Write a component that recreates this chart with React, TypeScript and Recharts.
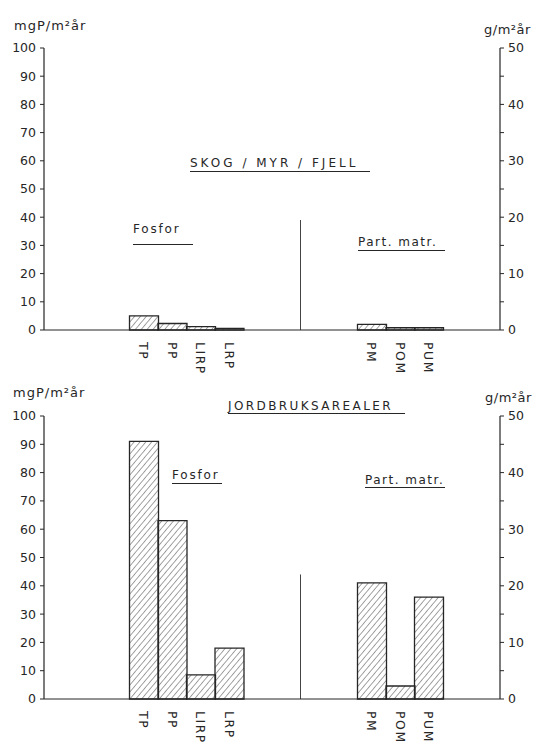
import React from "react";
import { BarChart, Bar, XAxis, YAxis, ReferenceLine } from "recharts";

// categories
const fosforLabels = ["TP", "PP", "LIRP", "LRP"];
const partLabels = ["PM", "POM", "PUM"];

// values (mgP/m²år for fosfor, g/m²år for partikler)
const skogFosfor = [5, 2.3, 1.2, 0.6];
const skogPart = [1.0, 0.4, 0.4];
const jordFosfor = [91, 63, 8.5, 18];
const jordPart = [20.5, 2.3, 18];

// height of the divider line between the two groups (left axis units)
const skogDivider = 39;
const jordDivider = 44;

const leftTicks = [0, 10, 20, 30, 40, 50, 60, 70, 80, 90, 100];
const rightTicks = [0, 5, 10, 15, 20, 25, 30, 35, 40, 45, 50];

const FONT = "'DejaVu Sans', 'Liberation Sans', sans-serif";
const INK = "#262626";

type Row = { key: string; fosfor: number | null; part: number | null };

// empty slots before, between and after the two groups
function buildRows(fosfor: number[], part: number[]): Row[] {
  const rows: Row[] = [];
  let n = 0;
  const blank = (count: number) => {
    for (let i = 0; i < count; i++) rows.push({ key: `_${n++}`, fosfor: null, part: null });
  };
  blank(3);
  fosforLabels.forEach((l, i) => rows.push({ key: l, fosfor: fosfor[i], part: null }));
  blank(4);
  partLabels.forEach((l, i) => rows.push({ key: l, fosfor: null, part: part[i] }));
  blank(2);
  return rows;
}

// the divider sits at the right edge of the second gap slot
const dividerSlot = "_4";

function SlotTick(props: any) {
  const { x, y, payload } = props;
  const label: string = String(payload.value);
  if (label.startsWith("_")) return <g />;
  const ty = y + 4;
  return (
    <text
      x={x}
      y={ty}
      transform={`rotate(90 ${x} ${ty})`}
      dy="0.36em"
      textAnchor="start"
      fontSize={12.5}
      letterSpacing={1.5}
      fill={INK}
      fontFamily={FONT}
    >
      {label}
    </text>
  );
}

type Note = { text: string; left: number; top: number; width?: number; pad?: number; spacing?: number; size?: number };

function Panel(props: {
  id: string;
  top: number;
  height: number;
  marginTop: number;
  fosfor: number[];
  part: number[];
  divider: number;
  notes: Note[];
}) {
  const { id, top, height, marginTop, fosfor, part, divider, notes } = props;
  const rows = buildRows(fosfor, part);
  const tickStyle = { fontSize: 12.5, fill: INK, fontFamily: FONT };
  return (
    <div style={{ position: "absolute", left: 0, top, width: 551, height }}>
      <BarChart
        width={551}
        height={height}
        data={rows}
        margin={{ top: marginTop, right: 0, left: 0, bottom: 0 }}
        barCategoryGap={0}
        barGap={0}
      >
        <defs>
          <pattern id={id} patternUnits="userSpaceOnUse" width={4.5} height={4.5} patternTransform="rotate(40)">
            <line x1={0} y1={0} x2={0} y2={4.5} stroke="#333" strokeWidth={0.9} />
          </pattern>
        </defs>
        <XAxis
          xAxisId="cat"
          dataKey="key"
          interval={0}
          height={52}
          tick={<SlotTick />}
          tickLine={false}
          axisLine={{ stroke: INK, strokeWidth: 1.2 }}
        />
        <XAxis xAxisId="cat2" dataKey="key" hide />
        <YAxis
          yAxisId="left"
          domain={[0, 100]}
          ticks={leftTicks}
          width={44}
          tickSize={4}
          tickMargin={4}
          tick={tickStyle}
          axisLine={{ stroke: INK, strokeWidth: 1.2 }}
          tickLine={{ stroke: INK }}
        />
        <YAxis
          yAxisId="right"
          orientation="right"
          domain={[0, 50]}
          ticks={rightTicks}
          width={51}
          tickSize={4}
          tickMargin={4}
          tick={tickStyle}
          tickFormatter={(v: number) => (v % 10 === 0 ? String(v) : "")}
          axisLine={{ stroke: INK, strokeWidth: 1.2 }}
          tickLine={{ stroke: INK }}
        />
        <Bar
          xAxisId="cat"
          yAxisId="left"
          dataKey="fosfor"
          fill={`url(#${id})`}
          stroke={INK}
          strokeWidth={1.3}
          isAnimationActive={false}
        />
        <Bar
          xAxisId="cat2"
          yAxisId="right"
          dataKey="part"
          fill={`url(#${id})`}
          stroke={INK}
          strokeWidth={1.3}
          isAnimationActive={false}
        />
        <ReferenceLine
          xAxisId="cat"
          yAxisId="left"
          position="end"
          segment={[
            { x: dividerSlot, y: 0 },
            { x: dividerSlot, y: divider },
          ]}
          stroke="#444"
          strokeWidth={1}
        />
      </BarChart>
      {notes.map((n) => (
        <div
          key={n.text}
          style={{
            position: "absolute",
            left: n.left,
            top: n.top,
            width: n.width,
            fontFamily: FONT,
            fontSize: n.size ?? 12,
            lineHeight: "12px",
            color: INK,
            letterSpacing: n.spacing ?? 1,
            whiteSpace: "nowrap",
            paddingBottom: n.pad,
            borderBottom: n.pad !== undefined ? `1px solid ${INK}` : undefined,
          }}
        >
          {n.text}
        </div>
      ))}
    </div>
  );
}

export default function App() {
  return (
    <div style={{ position: "absolute", left: 0, top: 0, width: 551, height: 751, background: "#fff" }}>
      <Panel
        id="hatchSkog"
        top={0}
        height={382}
        marginTop={48}
        fosfor={skogFosfor}
        part={skogPart}
        divider={skogDivider}
        notes={[
          { text: "mgP/m²år", left: 14, top: 20, spacing: 1, size: 13 },
          { text: "g/m²år", left: 484, top: 24, spacing: 0.5, size: 13 },
          { text: "SKOG / MYR / FJELL", left: 190, top: 157, width: 180, pad: 2, spacing: 3 },
          { text: "Fosfor", left: 133, top: 223, width: 60, pad: 9, spacing: 1.8 },
          { text: "Part. matr.", left: 358, top: 236, width: 87, pad: 2, spacing: 1.5 },
        ]}
      />
      <Panel
        id="hatchJord"
        top={370}
        height={381}
        marginTop={46}
        fosfor={jordFosfor}
        part={jordPart}
        divider={jordDivider}
        notes={[
          { text: "mgP/m²år", left: 13, top: 17, spacing: 1, size: 13 },
          { text: "g/m²år", left: 485, top: 22, spacing: 0.5, size: 13 },
          { text: "JORDBRUKSAREALER", left: 228, top: 30, width: 177, pad: 1, spacing: 2.4 },
          { text: "Fosfor", left: 172, top: 99, width: 50, pad: 2, spacing: 1.8 },
          { text: "Part. matr.", left: 365, top: 104, width: 80, pad: 1, spacing: 1.5 },
        ]}
      />
    </div>
  );
}
